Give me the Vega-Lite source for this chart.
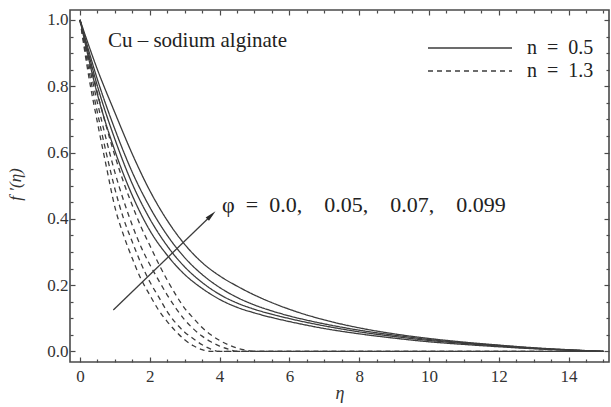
{
  "$schema": "https://vega.github.io/schema/vega-lite/v6.json",
  "width": 539,
  "height": 352,
  "autosize": "none",
  "padding": {"left": 70, "top": 10, "right": 2, "bottom": 45},
  "background": "white",
  "config": {"view": {"stroke": "#4a4a4a", "strokeWidth": 1.6}, "font": "Liberation Serif, Times New Roman, serif"},
  "data": {"values": [
    {"n":"0.5","phi":0,"eta":0,"f":1},{"n":"0.5","phi":0,"eta":0.5,"f":0.775},{"n":"0.5","phi":0,"eta":1,"f":0.605},{"n":"0.5","phi":0,"eta":1.5,"f":0.47},{"n":"0.5","phi":0,"eta":2,"f":0.365},{"n":"0.5","phi":0,"eta":2.5,"f":0.29},{"n":"0.5","phi":0,"eta":3,"f":0.232},{"n":"0.5","phi":0,"eta":3.5,"f":0.19},{"n":"0.5","phi":0,"eta":4,"f":0.157},{"n":"0.5","phi":0,"eta":4.5,"f":0.133},{"n":"0.5","phi":0,"eta":5,"f":0.116},{"n":"0.5","phi":0,"eta":5.5,"f":0.102},{"n":"0.5","phi":0,"eta":6,"f":0.09},{"n":"0.5","phi":0,"eta":7,"f":0.069},{"n":"0.5","phi":0,"eta":8,"f":0.053},{"n":"0.5","phi":0,"eta":9,"f":0.04},{"n":"0.5","phi":0,"eta":10,"f":0.029},{"n":"0.5","phi":0,"eta":11,"f":0.021},{"n":"0.5","phi":0,"eta":12,"f":0.014},{"n":"0.5","phi":0,"eta":13,"f":0.008},{"n":"0.5","phi":0,"eta":14,"f":0.0035},{"n":"0.5","phi":0,"eta":15,"f":0},
    {"n":"0.5","phi":0.05,"eta":0,"f":1},{"n":"0.5","phi":0.05,"eta":0.5,"f":0.8},{"n":"0.5","phi":0.05,"eta":1,"f":0.64},{"n":"0.5","phi":0.05,"eta":1.5,"f":0.505},{"n":"0.5","phi":0.05,"eta":2,"f":0.4},{"n":"0.5","phi":0.05,"eta":2.5,"f":0.318},{"n":"0.5","phi":0.05,"eta":3,"f":0.255},{"n":"0.5","phi":0.05,"eta":3.5,"f":0.208},{"n":"0.5","phi":0.05,"eta":4,"f":0.172},{"n":"0.5","phi":0.05,"eta":4.5,"f":0.146},{"n":"0.5","phi":0.05,"eta":5,"f":0.127},{"n":"0.5","phi":0.05,"eta":5.5,"f":0.112},{"n":"0.5","phi":0.05,"eta":6,"f":0.099},{"n":"0.5","phi":0.05,"eta":7,"f":0.077},{"n":"0.5","phi":0.05,"eta":8,"f":0.059},{"n":"0.5","phi":0.05,"eta":9,"f":0.045},{"n":"0.5","phi":0.05,"eta":10,"f":0.033},{"n":"0.5","phi":0.05,"eta":11,"f":0.024},{"n":"0.5","phi":0.05,"eta":12,"f":0.016},{"n":"0.5","phi":0.05,"eta":13,"f":0.009},{"n":"0.5","phi":0.05,"eta":14,"f":0.004},{"n":"0.5","phi":0.05,"eta":15,"f":0},
    {"n":"0.5","phi":0.07,"eta":0,"f":1},{"n":"0.5","phi":0.07,"eta":0.5,"f":0.82},{"n":"0.5","phi":0.07,"eta":1,"f":0.67},{"n":"0.5","phi":0.07,"eta":1.5,"f":0.54},{"n":"0.5","phi":0.07,"eta":2,"f":0.435},{"n":"0.5","phi":0.07,"eta":2.5,"f":0.35},{"n":"0.5","phi":0.07,"eta":3,"f":0.283},{"n":"0.5","phi":0.07,"eta":3.5,"f":0.232},{"n":"0.5","phi":0.07,"eta":4,"f":0.193},{"n":"0.5","phi":0.07,"eta":4.5,"f":0.163},{"n":"0.5","phi":0.07,"eta":5,"f":0.14},{"n":"0.5","phi":0.07,"eta":5.5,"f":0.122},{"n":"0.5","phi":0.07,"eta":6,"f":0.107},{"n":"0.5","phi":0.07,"eta":7,"f":0.083},{"n":"0.5","phi":0.07,"eta":8,"f":0.064},{"n":"0.5","phi":0.07,"eta":9,"f":0.049},{"n":"0.5","phi":0.07,"eta":10,"f":0.036},{"n":"0.5","phi":0.07,"eta":11,"f":0.026},{"n":"0.5","phi":0.07,"eta":12,"f":0.018},{"n":"0.5","phi":0.07,"eta":13,"f":0.01},{"n":"0.5","phi":0.07,"eta":14,"f":0.0045},{"n":"0.5","phi":0.07,"eta":15,"f":0},
    {"n":"0.5","phi":0.099,"eta":0,"f":1},{"n":"0.5","phi":0.099,"eta":0.5,"f":0.85},{"n":"0.5","phi":0.099,"eta":1,"f":0.72},{"n":"0.5","phi":0.099,"eta":1.5,"f":0.595},{"n":"0.5","phi":0.099,"eta":2,"f":0.485},{"n":"0.5","phi":0.099,"eta":2.5,"f":0.395},{"n":"0.5","phi":0.099,"eta":3,"f":0.323},{"n":"0.5","phi":0.099,"eta":3.5,"f":0.268},{"n":"0.5","phi":0.099,"eta":4,"f":0.228},{"n":"0.5","phi":0.099,"eta":4.5,"f":0.197},{"n":"0.5","phi":0.099,"eta":5,"f":0.17},{"n":"0.5","phi":0.099,"eta":5.5,"f":0.147},{"n":"0.5","phi":0.099,"eta":6,"f":0.127},{"n":"0.5","phi":0.099,"eta":7,"f":0.095},{"n":"0.5","phi":0.099,"eta":8,"f":0.071},{"n":"0.5","phi":0.099,"eta":9,"f":0.053},{"n":"0.5","phi":0.099,"eta":10,"f":0.039},{"n":"0.5","phi":0.099,"eta":11,"f":0.028},{"n":"0.5","phi":0.099,"eta":12,"f":0.019},{"n":"0.5","phi":0.099,"eta":13,"f":0.011},{"n":"0.5","phi":0.099,"eta":14,"f":0.005},{"n":"0.5","phi":0.099,"eta":15,"f":0},
    {"n":"1.3","phi":0,"eta":0,"f":1},{"n":"1.3","phi":0,"eta":0.25,"f":0.83},{"n":"1.3","phi":0,"eta":0.5,"f":0.69},{"n":"1.3","phi":0,"eta":0.75,"f":0.56},{"n":"1.3","phi":0,"eta":1,"f":0.435},{"n":"1.3","phi":0,"eta":1.25,"f":0.35},{"n":"1.3","phi":0,"eta":1.5,"f":0.28},{"n":"1.3","phi":0,"eta":1.75,"f":0.218},{"n":"1.3","phi":0,"eta":2,"f":0.17},{"n":"1.3","phi":0,"eta":2.25,"f":0.125},{"n":"1.3","phi":0,"eta":2.5,"f":0.09},{"n":"1.3","phi":0,"eta":2.75,"f":0.06},{"n":"1.3","phi":0,"eta":3,"f":0.035},{"n":"1.3","phi":0,"eta":3.25,"f":0.017},{"n":"1.3","phi":0,"eta":3.5,"f":0.005},{"n":"1.3","phi":0,"eta":3.75,"f":0},{"n":"1.3","phi":0,"eta":4.5,"f":0},{"n":"1.3","phi":0,"eta":6,"f":0},{"n":"1.3","phi":0,"eta":8,"f":0},{"n":"1.3","phi":0,"eta":10,"f":0},{"n":"1.3","phi":0,"eta":12,"f":0},{"n":"1.3","phi":0,"eta":15,"f":0},
    {"n":"1.3","phi":0.05,"eta":0,"f":1},{"n":"1.3","phi":0.05,"eta":0.25,"f":0.85},{"n":"1.3","phi":0.05,"eta":0.5,"f":0.72},{"n":"1.3","phi":0.05,"eta":0.75,"f":0.6},{"n":"1.3","phi":0.05,"eta":1,"f":0.49},{"n":"1.3","phi":0.05,"eta":1.25,"f":0.4},{"n":"1.3","phi":0.05,"eta":1.5,"f":0.33},{"n":"1.3","phi":0.05,"eta":1.75,"f":0.265},{"n":"1.3","phi":0.05,"eta":2,"f":0.21},{"n":"1.3","phi":0.05,"eta":2.25,"f":0.165},{"n":"1.3","phi":0.05,"eta":2.5,"f":0.12},{"n":"1.3","phi":0.05,"eta":2.75,"f":0.085},{"n":"1.3","phi":0.05,"eta":3,"f":0.058},{"n":"1.3","phi":0.05,"eta":3.25,"f":0.038},{"n":"1.3","phi":0.05,"eta":3.5,"f":0.02},{"n":"1.3","phi":0.05,"eta":3.75,"f":0.007},{"n":"1.3","phi":0.05,"eta":4,"f":0},{"n":"1.3","phi":0.05,"eta":5,"f":0},{"n":"1.3","phi":0.05,"eta":6,"f":0},{"n":"1.3","phi":0.05,"eta":8,"f":0},{"n":"1.3","phi":0.05,"eta":10,"f":0},{"n":"1.3","phi":0.05,"eta":12,"f":0},{"n":"1.3","phi":0.05,"eta":15,"f":0},
    {"n":"1.3","phi":0.07,"eta":0,"f":1},{"n":"1.3","phi":0.07,"eta":0.25,"f":0.87},{"n":"1.3","phi":0.07,"eta":0.5,"f":0.75},{"n":"1.3","phi":0.07,"eta":0.75,"f":0.64},{"n":"1.3","phi":0.07,"eta":1,"f":0.54},{"n":"1.3","phi":0.07,"eta":1.25,"f":0.455},{"n":"1.3","phi":0.07,"eta":1.5,"f":0.38},{"n":"1.3","phi":0.07,"eta":1.75,"f":0.315},{"n":"1.3","phi":0.07,"eta":2,"f":0.262},{"n":"1.3","phi":0.07,"eta":2.25,"f":0.215},{"n":"1.3","phi":0.07,"eta":2.5,"f":0.17},{"n":"1.3","phi":0.07,"eta":2.75,"f":0.13},{"n":"1.3","phi":0.07,"eta":3,"f":0.095},{"n":"1.3","phi":0.07,"eta":3.25,"f":0.068},{"n":"1.3","phi":0.07,"eta":3.5,"f":0.046},{"n":"1.3","phi":0.07,"eta":3.75,"f":0.029},{"n":"1.3","phi":0.07,"eta":4,"f":0.016},{"n":"1.3","phi":0.07,"eta":4.25,"f":0.007},{"n":"1.3","phi":0.07,"eta":4.5,"f":0},{"n":"1.3","phi":0.07,"eta":5.5,"f":0},{"n":"1.3","phi":0.07,"eta":6,"f":0},{"n":"1.3","phi":0.07,"eta":8,"f":0},{"n":"1.3","phi":0.07,"eta":10,"f":0},{"n":"1.3","phi":0.07,"eta":12,"f":0},{"n":"1.3","phi":0.07,"eta":15,"f":0},
    {"n":"1.3","phi":0.099,"eta":0,"f":1},{"n":"1.3","phi":0.099,"eta":0.25,"f":0.89},{"n":"1.3","phi":0.099,"eta":0.5,"f":0.78},{"n":"1.3","phi":0.099,"eta":0.75,"f":0.68},{"n":"1.3","phi":0.099,"eta":1,"f":0.59},{"n":"1.3","phi":0.099,"eta":1.25,"f":0.51},{"n":"1.3","phi":0.099,"eta":1.5,"f":0.44},{"n":"1.3","phi":0.099,"eta":1.75,"f":0.375},{"n":"1.3","phi":0.099,"eta":2,"f":0.32},{"n":"1.3","phi":0.099,"eta":2.25,"f":0.265},{"n":"1.3","phi":0.099,"eta":2.5,"f":0.215},{"n":"1.3","phi":0.099,"eta":2.75,"f":0.17},{"n":"1.3","phi":0.099,"eta":3,"f":0.13},{"n":"1.3","phi":0.099,"eta":3.25,"f":0.1},{"n":"1.3","phi":0.099,"eta":3.5,"f":0.072},{"n":"1.3","phi":0.099,"eta":3.75,"f":0.05},{"n":"1.3","phi":0.099,"eta":4,"f":0.033},{"n":"1.3","phi":0.099,"eta":4.25,"f":0.02},{"n":"1.3","phi":0.099,"eta":4.5,"f":0.01},{"n":"1.3","phi":0.099,"eta":4.75,"f":0.004},{"n":"1.3","phi":0.099,"eta":5,"f":0},{"n":"1.3","phi":0.099,"eta":6,"f":0},{"n":"1.3","phi":0.099,"eta":8,"f":0},{"n":"1.3","phi":0.099,"eta":10,"f":0},{"n":"1.3","phi":0.099,"eta":12,"f":0},{"n":"1.3","phi":0.099,"eta":15,"f":0}
  ]},
  "layer": [
    {
      "mark": {"type": "line", "interpolate": "monotone", "strokeWidth": 1.3, "color": "#3c3c3c"},
      "encoding": {
        "x": {"field": "eta", "type": "quantitative",
          "scale": {"domain": [-0.287, 15.16], "nice": false, "zero": false},
          "axis": {"orient": "bottom", "values": [0,2,4,6,8,10,12,14],
            "domain": false, "grid": false, "ticks": true, "tickSize": -5, "tickColor": "#4a4a4a", "tickWidth": 1.2,
            "format": "d", "labelFont": "Liberation Serif, Times New Roman, serif", "labelFontSize": 17, "labelColor": "#333", "labelPadding": 11, "labelOverlap": false, "labelFlush": false,
            "title": "η", "titleFont": "Liberation Serif, Times New Roman, serif", "titleFontStyle": "italic", "titleFontWeight": "normal", "titleFontSize": 18, "titleColor": "#333", "titlePadding": 0}},
        "y": {"field": "f", "type": "quantitative",
          "scale": {"domain": [-0.032, 1.03], "nice": false, "zero": false},
          "axis": {"orient": "left", "values": [0,0.2,0.4,0.6,0.8,1],
            "domain": false, "grid": false, "ticks": true, "tickSize": -5, "tickColor": "#4a4a4a", "tickWidth": 1.2,
            "format": ".1f", "labelFont": "Liberation Serif, Times New Roman, serif", "labelFontSize": 17, "labelColor": "#333", "labelPadding": 7, "labelOverlap": false, "labelFlush": false,
            "title": "f ′(η)", "titleFont": "Liberation Serif, Times New Roman, serif", "titleFontStyle": "italic", "titleFontWeight": "normal", "titleFontSize": 17, "titleColor": "#333",
            "titleX": -55, "titleY": 174, "titleAngle": -90, "titleAlign": "center", "titleBaseline": "middle"}},
        "detail": {"field": "phi", "type": "nominal"},
        "strokeDash": {"field": "n", "type": "nominal",
          "scale": {"domain": ["0.5", "1.3"], "range": [[1, 0], [5, 4]]},
          "legend": {"orient": "none", "legendX": 390, "legendY": 28, "title": null, "symbolType": "M-6,0H6", "symbolSize": 196, "symbolStrokeWidth": 1.4, "symbolStrokeColor": "#3c3c3c", "symbolFillColor": "transparent",
            "labelExpr": "'n\u2002=\u2002' + datum.label", "labelFont": "Liberation Serif, Times New Roman, serif", "labelFontSize": 20, "labelColor": "#222", "labelOffset": 47, "rowPadding": 3}}
      }
    },
    {
      "mark": {"type": "point", "opacity": 0},
      "encoding": {
        "x": {"field": "eta", "type": "quantitative",
          "scale": {"domain": [-0.287, 15.16], "nice": false, "zero": false},
          "axis": {"orient": "top", "values": [0,2,4,6,8,10,12,14],
            "domain": false, "grid": false, "labels": false, "title": null, "ticks": true, "tickSize": -5, "tickColor": "#4a4a4a", "tickWidth": 1.2}},
        "y": {"field": "f", "type": "quantitative",
          "scale": {"domain": [-0.032, 1.03], "nice": false, "zero": false},
          "axis": {"orient": "right", "values": [0,0.2,0.4,0.6,0.8,1],
            "domain": false, "grid": false, "labels": false, "title": null, "ticks": true, "tickSize": -5, "tickColor": "#4a4a4a", "tickWidth": 1.2}}
      }
    },
    {
      "mark": {"type": "point", "opacity": 0},
      "encoding": {
        "x": {"field": "eta", "type": "quantitative",
          "scale": {"domain": [-0.287, 15.16], "nice": false, "zero": false},
          "axis": {"orient": "bottom", "values": [0.5,1,1.5,2.5,3,3.5,4.5,5,5.5,6.5,7,7.5,8.5,9,9.5,10.5,11,11.5,12.5,13,13.5,14.5,15],
            "domain": false, "grid": false, "labels": false, "title": null, "ticks": true, "tickSize": -3, "tickColor": "#4a4a4a", "tickWidth": 1.2}},
        "y": {"field": "f", "type": "quantitative",
          "scale": {"domain": [-0.032, 1.03], "nice": false, "zero": false},
          "axis": {"orient": "left", "values": [0.05,0.1,0.15,0.25,0.3,0.35,0.45,0.5,0.55,0.65,0.7,0.75,0.85,0.9,0.95],
            "domain": false, "grid": false, "labels": false, "title": null, "ticks": true, "tickSize": -3, "tickColor": "#4a4a4a", "tickWidth": 1.2}}
      }
    },
    {
      "mark": {"type": "point", "opacity": 0},
      "encoding": {
        "x": {"field": "eta", "type": "quantitative",
          "scale": {"domain": [-0.287, 15.16], "nice": false, "zero": false},
          "axis": {"orient": "top", "values": [0.5,1,1.5,2.5,3,3.5,4.5,5,5.5,6.5,7,7.5,8.5,9,9.5,10.5,11,11.5,12.5,13,13.5,14.5,15],
            "domain": false, "grid": false, "labels": false, "title": null, "ticks": true, "tickSize": -3, "tickColor": "#4a4a4a", "tickWidth": 1.2}},
        "y": {"field": "f", "type": "quantitative",
          "scale": {"domain": [-0.032, 1.03], "nice": false, "zero": false},
          "axis": {"orient": "right", "values": [0.05,0.1,0.15,0.25,0.3,0.35,0.45,0.5,0.55,0.65,0.7,0.75,0.85,0.9,0.95],
            "domain": false, "grid": false, "labels": false, "title": null, "ticks": true, "tickSize": -3, "tickColor": "#4a4a4a", "tickWidth": 1.2}}
      }
    },
    {
      "data": {"values": [{}]},
      "mark": {"type": "rule", "strokeWidth": 1.3, "color": "#3c3c3c"},
      "encoding": {
        "x": {"datum": 0.954, "type": "quantitative", "scale": {"domain": [-0.287, 15.16], "nice": false, "zero": false}, "axis": null},
        "y": {"datum": 0.125, "type": "quantitative", "scale": {"domain": [-0.032, 1.03], "nice": false, "zero": false}, "axis": null},
        "x2": {"datum": 3.78},
        "y2": {"datum": 0.412}
      }
    },
    {
      "data": {"values": [{}]},
      "mark": {"type": "point", "shape": "M0,-1L0.42,1L-0.42,1Z", "filled": true, "opacity": 1, "color": "#2a2a2a", "size": 130, "angle": 46},
      "encoding": {
        "x": {"datum": 3.766, "type": "quantitative", "scale": {"domain": [-0.287, 15.16], "nice": false, "zero": false}, "axis": null},
        "y": {"datum": 0.411, "type": "quantitative", "scale": {"domain": [-0.032, 1.03], "nice": false, "zero": false}, "axis": null}
      }
    },
    {
      "data": {"values": [{}]},
      "mark": {"type": "text", "text": "Cu – sodium alginate", "font": "Liberation Serif, Times New Roman, serif", "fontSize": 21, "align": "left", "baseline": "alphabetic", "color": "#222"},
      "encoding": {
        "x": {"datum": 0.8, "type": "quantitative", "scale": {"domain": [-0.287, 15.16], "nice": false, "zero": false}, "axis": null},
        "y": {"datum": 0.919, "type": "quantitative", "scale": {"domain": [-0.032, 1.03], "nice": false, "zero": false}, "axis": null}
      }
    },
    {
      "data": {"values": [{}]},
      "mark": {"type": "text", "text": "φ\u2002=\u20020.0,\u20030.05,\u20030.07,\u20030.099", "font": "Liberation Serif, Times New Roman, serif", "fontSize": 22, "align": "left", "baseline": "alphabetic", "color": "#222"},
      "encoding": {
        "x": {"datum": 4.07, "type": "quantitative", "scale": {"domain": [-0.287, 15.16], "nice": false, "zero": false}, "axis": null},
        "y": {"datum": 0.42, "type": "quantitative", "scale": {"domain": [-0.032, 1.03], "nice": false, "zero": false}, "axis": null}
      }
    }
  ],
  "resolve": {"axis": {"x": "independent", "y": "independent"}}
}
